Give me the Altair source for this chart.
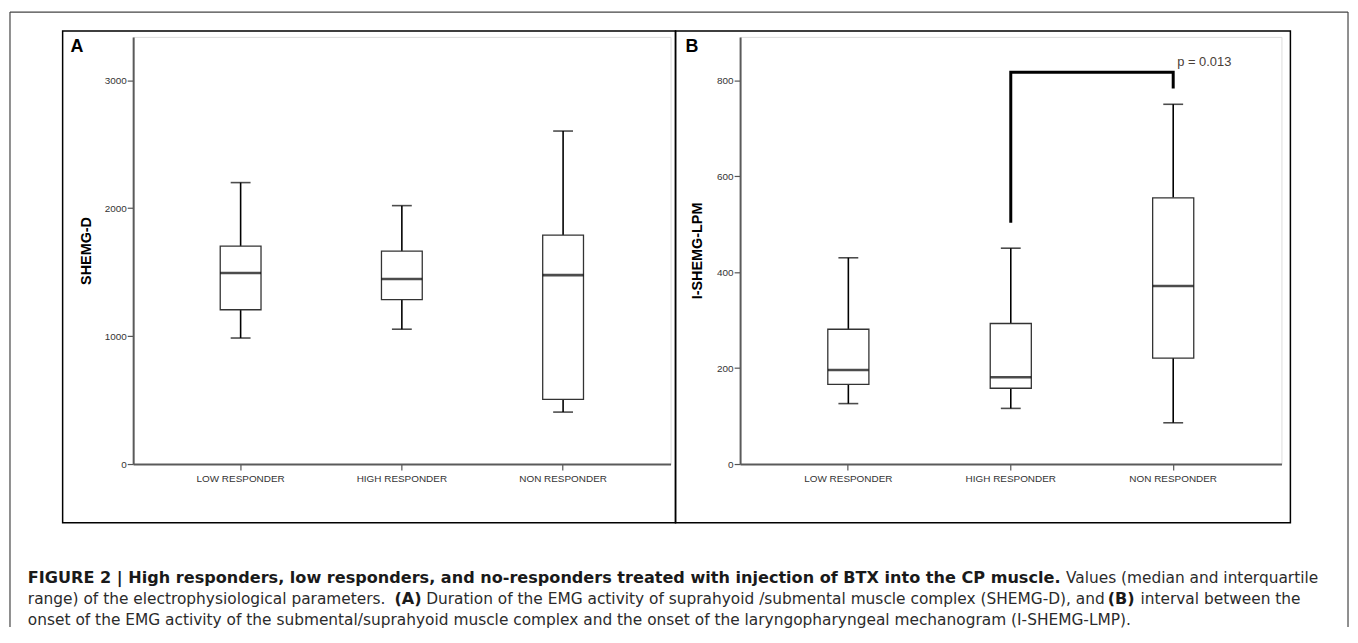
import altair as alt
import pandas as pd

# ---------------- data ----------------
groups = ["LOW RESPONDER", "HIGH RESPONDER", "NON RESPONDER"]

# Panel A: SHEMG-D (whisker low, Q1, median, Q3, whisker high)
a_low = [985, 1054, 406]
a_q1 = [1206, 1286, 505]
a_median = [1493, 1446, 1477]
a_q3 = [1703, 1664, 1789]
a_high = [2200, 2020, 2603]
a_ticks = [0, 1000, 2000, 3000]
a_title = "SHEMG-D"

# Panel B: I-SHEMG-LPM
b_low = [126, 116, 86]
b_q1 = [166, 158, 221]
b_median = [196, 181, 371]
b_q3 = [281, 293, 555]
b_high = [430, 450, 750]
b_ticks = [0, 200, 400, 600, 800]
b_title = "I-SHEMG-LPM"

# significance bracket (panel B)
bracket_groups = ["HIGH RESPONDER", "HIGH RESPONDER", "NON RESPONDER", "NON RESPONDER"]
bracket_values = [503, 817, 817, 783]
p_text = "p = 0.013"
p_group = "NON RESPONDER"
p_value = 829

caption_l1_bold = ("FIGURE 2 | High responders, low responders, and no-responders treated "
                   "with injection of BTX into the CP muscle.")
caption_l1_reg = "Values (median and interquartile"
caption_l2_a = "range) of the electrophysiological parameters."
caption_l2_b = "(A)"
caption_l2_c = ("Duration of the EMG activity of suprahyoid /submental muscle complex "
                "(SHEMG-D), and")
caption_l2_d = "(B)"
caption_l2_e = "interval between the"
caption_l3 = ("onset of the EMG activity of the submental/suprahyoid muscle complex and the "
              "onset of the laryngopharyngeal mechanogram (I-SHEMG-LMP).")

# ---------------- helpers ----------------
ONE = alt.Data(values=[{}])
LABEL_FONT = "Liberation Sans"
CAP_FONT = "DejaVu Sans"


def txt(s, x, y, size=15.5, bold=False, align="left", font=CAP_FONT, color="#2b2b2b"):
    return alt.Chart(ONE).mark_text(
        align=align, baseline="alphabetic", font=font, fontSize=size,
        fontWeight="bold" if bold else "normal", color=color,
    ).encode(x=alt.value(x), y=alt.value(y), text=alt.value(s))


def box_rect(x1, x2, y1, y2, color="black", width=1.5):
    return alt.Chart(ONE).mark_rect(fillOpacity=0, stroke=color, strokeWidth=width).encode(
        x=alt.value(x1), x2=alt.value(x2), y=alt.value(y1), y2=alt.value(y2))


def vrule(x, y1, y2, color="#444", width=1.2):
    return alt.Chart(ONE).mark_rule(color=color, strokeWidth=width).encode(
        x=alt.value(x), y=alt.value(y1), y2=alt.value(y2))


def hrule(y, x1, x2, color="#444", width=1.2):
    return alt.Chart(ONE).mark_rule(color=color, strokeWidth=width).encode(
        y=alt.value(y), x=alt.value(x1), x2=alt.value(x2))


def panel(low, q1, med, q3, high, ymax, ticks, title, title_x):
    df = pd.DataFrame({"group": groups, "low": low, "q1": q1, "med": med, "q3": q3, "high": high})
    xenc = alt.X(
        "group:N", sort=groups,
        scale=alt.Scale(paddingInner=0.747, paddingOuter=0.54),
        axis=alt.Axis(title=None, labelAngle=0, labelFont=LABEL_FONT, labelFontSize=10,
                      labelColor="#333", tickColor="#555", tickSize=6, tickWidth=1.2,
                      domainColor="#5a5a5a", domainWidth=2, labelPadding=4),
    )
    yscale = alt.Scale(domain=[0, ymax], nice=False, zero=True)
    yaxis = alt.Axis(values=ticks, format="d", grid=False, title=title,
                     titleFont="Liberation Sans", titleFontSize=14.5, titleFontWeight="bold",
                     titleColor="black", titleX=title_x, titleY=215, titleAngle=270,
                     titleAlign="center", titleBaseline="middle",
                     labelFont=LABEL_FONT, labelFontSize=10, labelColor="#333",
                     tickColor="#555", tickSize=6, tickWidth=1.2, labelPadding=1,
                     domainColor="#5a5a5a", domainWidth=2)

    def Y(f):
        return alt.Y(f"{f}:Q", scale=yscale, axis=yaxis)

    base = alt.Chart(df)
    w_lo = base.mark_rule(color="black", strokeWidth=1.6).encode(x=xenc, y=Y("low"), y2="q1:Q")
    w_hi = base.mark_rule(color="black", strokeWidth=1.6).encode(x=xenc, y=Y("q3"), y2="high:Q")
    bx = base.mark_bar(fill="white", stroke="#333", strokeWidth=1.3).encode(
        x=xenc, y=Y("q1"), y2="q3:Q")
    md = base.mark_tick(color="black", thickness=2.6, size=41).encode(x=xenc, y=Y("med"))
    c_lo = base.mark_tick(color="black", thickness=1.6, size=20).encode(x=xenc, y=Y("low"))
    c_hi = base.mark_tick(color="black", thickness=1.6, size=20).encode(x=xenc, y=Y("high"))
    return [w_lo, w_hi, bx, md, c_lo, c_hi], xenc, Y


# ---------------- panel A ----------------
OX, OY = 132, 33  # plot origin of panel A on the page
la, xa, Ya = panel(a_low, a_q1, a_median, a_q3, a_high, 3339, a_ticks, a_title, -47)
L1, L2, L3 = 583, 604, 625
decor_a = [
    vrule(8 - OX, 8 - OY, 627 - OY),
    vrule(1355 - OX, 8 - OY, 627 - OY),
    hrule(8 - OY, 8 - OX, 1355 - OX),
    box_rect(61 - OX, 678 - OX, 27 - OY, 522 - OY),
    txt("A", 69 - OX, 48 - OY, size=18, bold=True, font="Liberation Sans", color="black"),
    # caption
    txt(caption_l1_bold, 26 - OX, L1 - OY, size=16.2, bold=True, color="#1a1a1a"),
    txt(caption_l1_reg, 1071 - OX, L1 - OY),
    txt(caption_l2_a, 26 - OX, L2 - OY),
    txt(caption_l2_b, 395 - OX, L2 - OY, size=16.2, bold=True, color="#1a1a1a"),
    txt(caption_l2_c, 427 - OX, L2 - OY),
    txt(caption_l2_d, 1113 - OX, L2 - OY, size=16.2, bold=True, color="#1a1a1a"),
    txt(caption_l2_e, 1146 - OX, L2 - OY),
    txt(caption_l3, 26 - OX, L3 - OY),
]
chart_a = alt.layer(*la, *decor_a).properties(width=541, height=430)

# ---------------- panel B ----------------
BX = 743
lb, xb, Yb = panel(b_low, b_q1, b_median, b_q3, b_high, 890.5, b_ticks, b_title, -43)
bracket_df = pd.DataFrame({"group": bracket_groups, "value": bracket_values,
                           "order": list(range(len(bracket_values)))})
bracket = alt.Chart(bracket_df).mark_line(color="black", strokeWidth=3, strokeJoin="miter",
                                          strokeCap="butt").encode(
    x=xb, y=Yb("value"), order="order:Q")
p_df = pd.DataFrame({"group": [p_group], "value": [p_value], "label": [p_text]})
ptext = alt.Chart(p_df).mark_text(align="left", baseline="alphabetic", dx=4,
                                  font="Liberation Sans", fontSize=13, color="#4a4038").encode(
    x=xb, y=Yb("value"), text="label:N")
decor_b = [
    box_rect(678 - BX, 1297 - BX, 27 - OY, 522 - OY),
    txt("B", 688 - BX, 48 - OY, size=18, bold=True, font="Liberation Sans", color="black"),
]
chart_b = alt.layer(*lb, bracket, ptext, *decor_b).properties(width=545, height=430)

chart = alt.hconcat(chart_a, chart_b, spacing=BX - (OX + 541), bounds="flush", padding=0).configure_view(
    stroke="#6e6e6e", strokeWidth=2
).configure(background="white")

chart.save("out.html", embed_options={"renderer": "svg", "actions": False})
